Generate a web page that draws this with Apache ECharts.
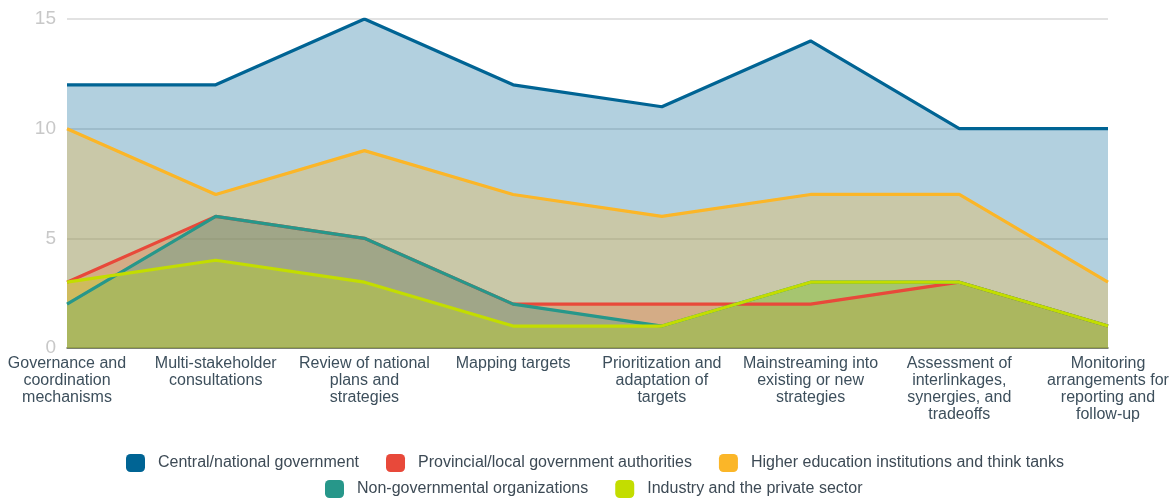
<!DOCTYPE html>
<html>
<head>
<meta charset="utf-8">
<script src="https://cdn.jsdelivr.net/npm/echarts@6/dist/echarts.min.js"></script>
<style>
  html, body { margin: 0; padding: 0; background: #fff; }
  #chart { width: 1173px; height: 498px; }
</style>
</head>
<body>
<div id="chart"></div>
<script>
// categories (x axis), with manual line breaks as in the original
const categories = [
  'Governance and\ncoordination\nmechanisms',
  'Multi-stakeholder\nconsultations',
  'Review of national\nplans and\nstrategies',
  'Mapping targets',
  'Prioritization and\nadaptation of\ntargets',
  'Mainstreaming into\nexisting or new\nstrategies',
  'Assessment of\ninterlinkages,\nsynergies, and\ntradeoffs',
  'Monitoring\narrangements for\nreporting and\nfollow-up'
]

const central = [12, 12, 15, 12, 11, 14, 10, 10]
const provincial = [3, 6, 5, 2, 2, 2, 3, 1]
const higherEd = [10, 7, 9, 7, 6, 7, 7, 3]
const ngo = [2, 6, 5, 2, 1, 3, 3, 1]
const industry = [3, 4, 3, 1, 1, 3, 3, 1]

const names = [
  'Central/national government',
  'Provincial/local government authorities',
  'Higher education institutions and think tanks',
  'Non-governmental organizations',
  'Industry and the private sector'
]
const colors = ['#006494', '#e8493a', '#fbb628', '#27978a', '#c3dd00']
const values = [central, provincial, higherEd, ngo, industry]

const chart = echarts.init(document.getElementById('chart'))

// areas first, lines drawn above all areas
const areaSeries = values.map((v, i) => ({
  name: names[i],
  type: 'line',
  data: v,
  symbol: 'none',
  lineStyle: { width: 0, opacity: 0 },
  itemStyle: { color: colors[i] },
  areaStyle: { color: colors[i], opacity: 0.3 },
  z: 1
}))
const lineSeries = values.map((v, i) => ({
  name: names[i],
  type: 'line',
  data: v,
  symbol: 'none',
  lineStyle: { width: 3.2, color: colors[i] },
  itemStyle: { color: colors[i] },
  z: 3
}))

const legendBase = {
  icon: 'roundRect',
  itemWidth: 19,
  itemHeight: 18,
  itemGap: 27,
  padding: 0,
  textStyle: {
    color: '#3d4a55', fontSize: 16, fontFamily: 'Liberation Sans',
    padding: [0, 0, 0, 8]
  }
}

chart.setOption({
  animation: false,
  color: colors,
  grid: { left: 67, right: 65, top: 19, bottom: 150 },
  legend: [
    Object.assign({}, legendBase, { top: 454, left: 126, data: names.slice(0, 3) }),
    Object.assign({}, legendBase, { top: 480, left: 325, data: names.slice(3) })
  ],
  xAxis: {
    type: 'category',
    data: categories,
    boundaryGap: false,
    axisLine: { show: true, lineStyle: { color: '#5a5f4a', width: 1.5 } },
    axisTick: { show: false },
    axisLabel: {
      color: '#3d4f5c', fontSize: 16, lineHeight: 17, margin: 7,
      fontFamily: 'Liberation Sans', interval: 0, align: 'center'
    },
    splitLine: { show: false }
  },
  yAxis: {
    type: 'value',
    min: 0, max: 15, interval: 5,
    axisLine: { show: false },
    axisTick: { show: false },
    axisLabel: { color: '#c8c8c8', fontSize: 19, margin: 11, fontFamily: 'Liberation Sans' },
    splitLine: { lineStyle: { color: '#d9d9d9', width: 1.5 } }
  },
  series: areaSeries.concat(lineSeries)
})
</script>
</body>
</html>
